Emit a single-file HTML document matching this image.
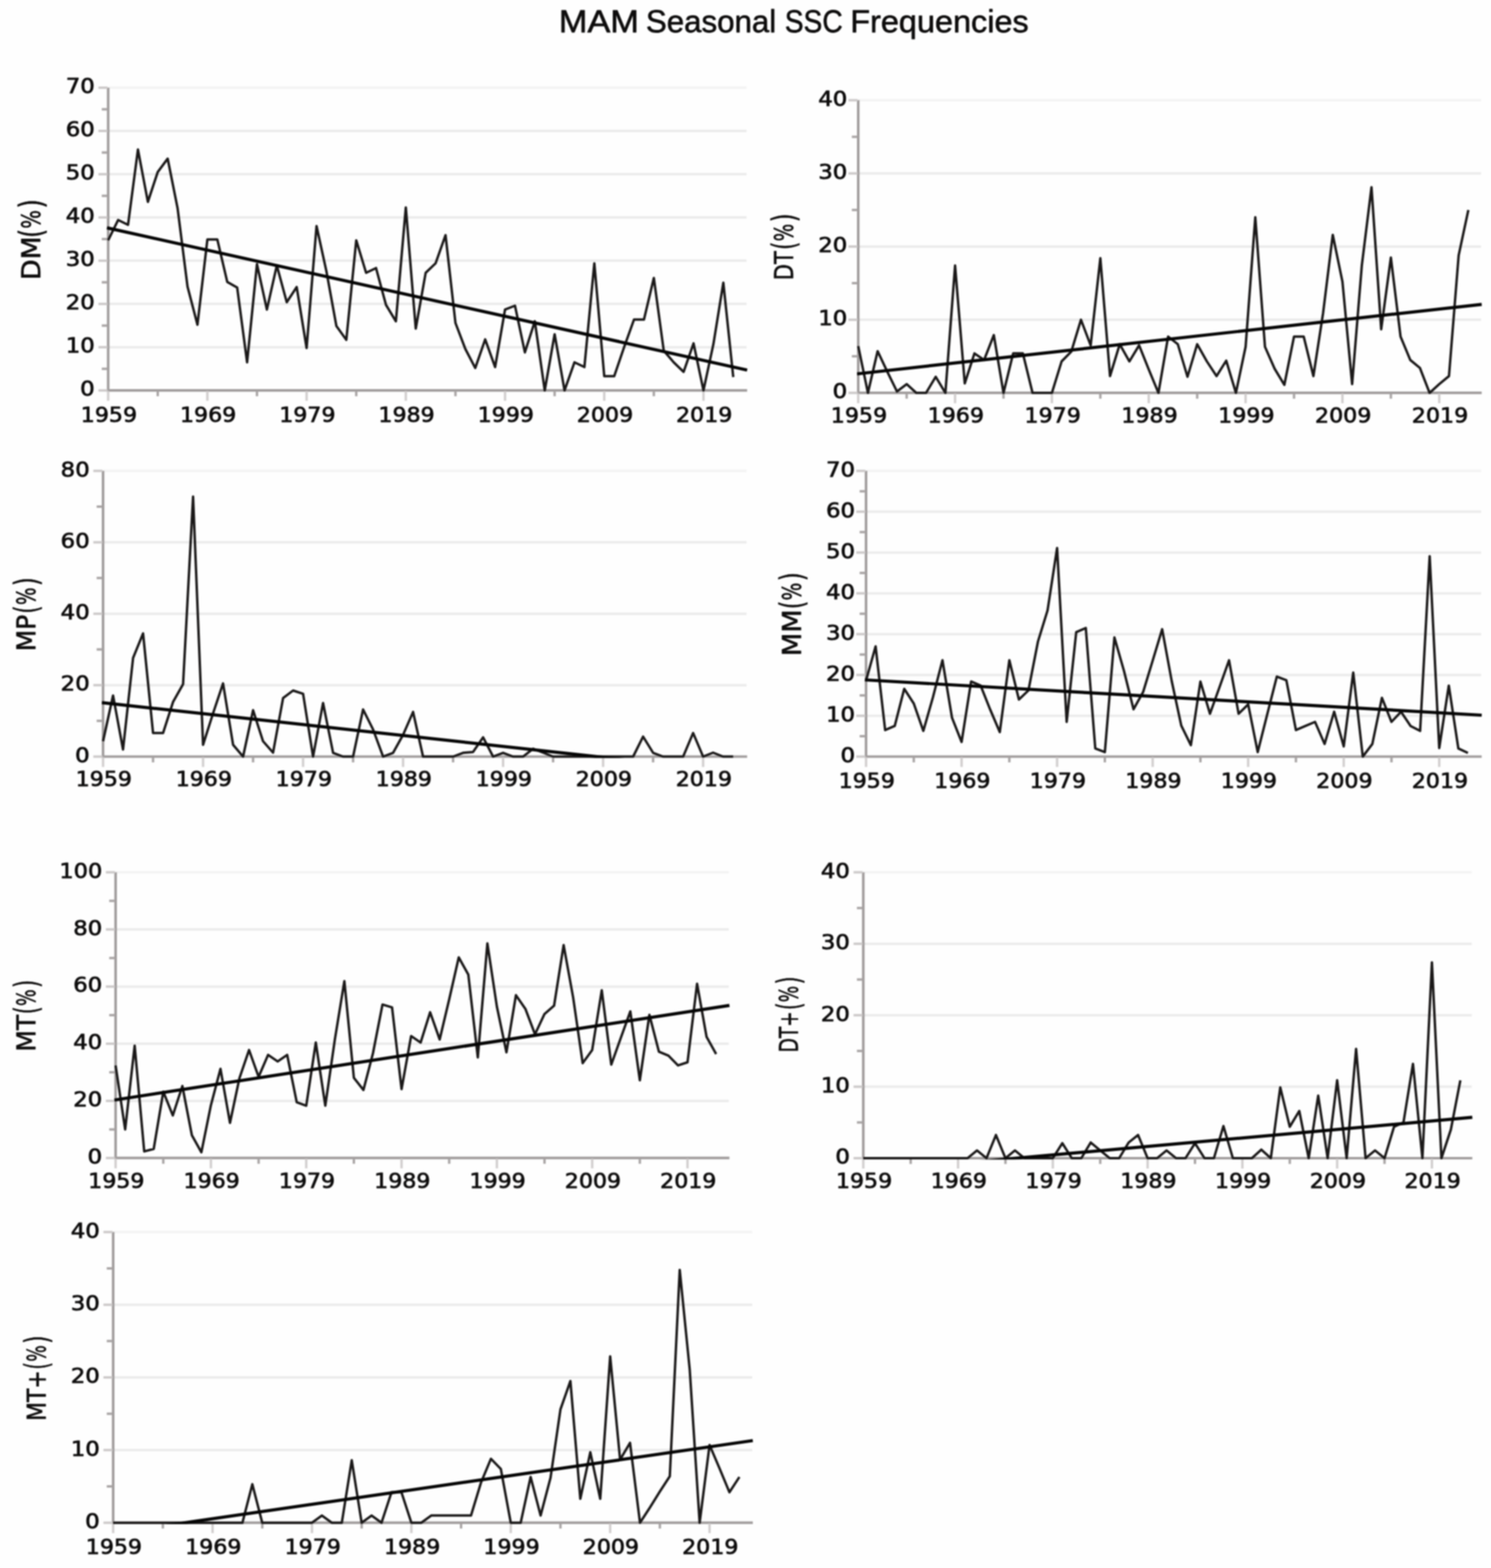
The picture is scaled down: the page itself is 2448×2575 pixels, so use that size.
<!DOCTYPE html>
<html lang="en">
<head>
<meta charset="utf-8">
<title>MAM Seasonal SSC Frequencies</title>
<style>
html,body{margin:0;padding:0;background:#fefefe;}
body{width:2448px;height:2575px;overflow:hidden;}
svg{display:block;filter:blur(1.1px);}
text{stroke:#0d0c0c;stroke-linejoin:round;}.t{stroke-width:0.9px}.k{stroke-width:1.1px}.l{stroke-width:0.9px}
</style>
</head>
<body>
<svg width="2448" height="2575" viewBox="0 0 2448 2575">
<rect width="2448" height="2575" fill="#fefefe"/>
<text class="t" y="52.6" font-family='"Liberation Sans", sans-serif' font-size="51.5" fill="#0d0c0c" xml:space="preserve"><tspan x="917.5" textLength="131.5" lengthAdjust="spacingAndGlyphs">MAM</tspan> <tspan x="1060.5" textLength="214" lengthAdjust="spacingAndGlyphs">Seasonal</tspan> <tspan x="1288.5" textLength="95" lengthAdjust="spacingAndGlyphs">SSC</tspan> <tspan x="1396" textLength="293" lengthAdjust="spacingAndGlyphs">Frequencies</tspan></text>
<g id="c0">
<line x1="177.6" y1="570.2" x2="1225.7" y2="570.2" stroke="#ebebeb" stroke-width="4"/>
<line x1="177.6" y1="499.1" x2="1225.7" y2="499.1" stroke="#ebebeb" stroke-width="4"/>
<line x1="177.6" y1="428.1" x2="1225.7" y2="428.1" stroke="#ebebeb" stroke-width="4"/>
<line x1="177.6" y1="357.1" x2="1225.7" y2="357.1" stroke="#ebebeb" stroke-width="4"/>
<line x1="177.6" y1="286.1" x2="1225.7" y2="286.1" stroke="#ebebeb" stroke-width="4"/>
<line x1="177.6" y1="215" x2="1225.7" y2="215" stroke="#ebebeb" stroke-width="4"/>
<line x1="177.6" y1="144" x2="1225.7" y2="144" stroke="#f3f3f3" stroke-width="4"/>
<clipPath id="cp0"><rect x="175.1" y="140" width="1052.6" height="503.4"/></clipPath>
<line x1="177.6" y1="144" x2="177.6" y2="643.3" stroke="#a09c9c" stroke-width="4.2"/>
<line x1="175.5" y1="641.2" x2="1226.7" y2="641.2" stroke="#a09c9c" stroke-width="4.2"/>
<line x1="161.6" y1="641.2" x2="176.6" y2="641.2" stroke="#cdcaca" stroke-width="4"/>
<text class="k" x="155.6" y="650.4" text-anchor="end" font-family='"DejaVu Sans", "Liberation Sans", sans-serif' font-size="34.4" fill="#0d0c0c" textLength="24" lengthAdjust="spacingAndGlyphs">0</text>
<line x1="167.1" y1="605.7" x2="176.6" y2="605.7" stroke="#aaa6a6" stroke-width="4"/>
<line x1="161.6" y1="570.2" x2="176.6" y2="570.2" stroke="#cdcaca" stroke-width="4"/>
<text class="k" x="155.6" y="579.4" text-anchor="end" font-family='"DejaVu Sans", "Liberation Sans", sans-serif' font-size="34.4" fill="#0d0c0c" textLength="47.6" lengthAdjust="spacingAndGlyphs">10</text>
<line x1="167.1" y1="534.7" x2="176.6" y2="534.7" stroke="#aaa6a6" stroke-width="4"/>
<line x1="161.6" y1="499.1" x2="176.6" y2="499.1" stroke="#cdcaca" stroke-width="4"/>
<text class="k" x="155.6" y="508.3" text-anchor="end" font-family='"DejaVu Sans", "Liberation Sans", sans-serif' font-size="34.4" fill="#0d0c0c" textLength="47.6" lengthAdjust="spacingAndGlyphs">20</text>
<line x1="167.1" y1="463.6" x2="176.6" y2="463.6" stroke="#aaa6a6" stroke-width="4"/>
<line x1="161.6" y1="428.1" x2="176.6" y2="428.1" stroke="#cdcaca" stroke-width="4"/>
<text class="k" x="155.6" y="437.3" text-anchor="end" font-family='"DejaVu Sans", "Liberation Sans", sans-serif' font-size="34.4" fill="#0d0c0c" textLength="47.6" lengthAdjust="spacingAndGlyphs">30</text>
<line x1="167.1" y1="392.6" x2="176.6" y2="392.6" stroke="#aaa6a6" stroke-width="4"/>
<line x1="161.6" y1="357.1" x2="176.6" y2="357.1" stroke="#cdcaca" stroke-width="4"/>
<text class="k" x="155.6" y="366.3" text-anchor="end" font-family='"DejaVu Sans", "Liberation Sans", sans-serif' font-size="34.4" fill="#0d0c0c" textLength="47.6" lengthAdjust="spacingAndGlyphs">40</text>
<line x1="167.1" y1="321.6" x2="176.6" y2="321.6" stroke="#aaa6a6" stroke-width="4"/>
<line x1="161.6" y1="286.1" x2="176.6" y2="286.1" stroke="#cdcaca" stroke-width="4"/>
<text class="k" x="155.6" y="295.3" text-anchor="end" font-family='"DejaVu Sans", "Liberation Sans", sans-serif' font-size="34.4" fill="#0d0c0c" textLength="47.6" lengthAdjust="spacingAndGlyphs">50</text>
<line x1="167.1" y1="250.5" x2="176.6" y2="250.5" stroke="#aaa6a6" stroke-width="4"/>
<line x1="161.6" y1="215" x2="176.6" y2="215" stroke="#cdcaca" stroke-width="4"/>
<text class="k" x="155.6" y="224.2" text-anchor="end" font-family='"DejaVu Sans", "Liberation Sans", sans-serif' font-size="34.4" fill="#0d0c0c" textLength="47.6" lengthAdjust="spacingAndGlyphs">60</text>
<line x1="167.1" y1="179.5" x2="176.6" y2="179.5" stroke="#aaa6a6" stroke-width="4"/>
<line x1="161.6" y1="144" x2="176.6" y2="144" stroke="#cdcaca" stroke-width="4"/>
<text class="k" x="155.6" y="153.2" text-anchor="end" font-family='"DejaVu Sans", "Liberation Sans", sans-serif' font-size="34.4" fill="#0d0c0c" textLength="47.6" lengthAdjust="spacingAndGlyphs">70</text>
<line x1="177.6" y1="642.2" x2="177.6" y2="658.2" stroke="#d2cfcf" stroke-width="4"/>
<text class="k" x="178.8" y="692.6" text-anchor="middle" font-family='"DejaVu Sans", "Liberation Sans", sans-serif' font-size="34.4" fill="#0d0c0c" textLength="92.4" lengthAdjust="spacingAndGlyphs">1959</text>
<line x1="259" y1="642.2" x2="259" y2="650.7" stroke="#aaa6a6" stroke-width="4"/>
<line x1="340.5" y1="642.2" x2="340.5" y2="658.2" stroke="#d2cfcf" stroke-width="4"/>
<text class="k" x="341.7" y="692.6" text-anchor="middle" font-family='"DejaVu Sans", "Liberation Sans", sans-serif' font-size="34.4" fill="#0d0c0c" textLength="92.4" lengthAdjust="spacingAndGlyphs">1969</text>
<line x1="421.9" y1="642.2" x2="421.9" y2="650.7" stroke="#aaa6a6" stroke-width="4"/>
<line x1="503.4" y1="642.2" x2="503.4" y2="658.2" stroke="#d2cfcf" stroke-width="4"/>
<text class="k" x="504.6" y="692.6" text-anchor="middle" font-family='"DejaVu Sans", "Liberation Sans", sans-serif' font-size="34.4" fill="#0d0c0c" textLength="92.4" lengthAdjust="spacingAndGlyphs">1979</text>
<line x1="584.9" y1="642.2" x2="584.9" y2="650.7" stroke="#aaa6a6" stroke-width="4"/>
<line x1="666.3" y1="642.2" x2="666.3" y2="658.2" stroke="#d2cfcf" stroke-width="4"/>
<text class="k" x="667.5" y="692.6" text-anchor="middle" font-family='"DejaVu Sans", "Liberation Sans", sans-serif' font-size="34.4" fill="#0d0c0c" textLength="92.4" lengthAdjust="spacingAndGlyphs">1989</text>
<line x1="747.8" y1="642.2" x2="747.8" y2="650.7" stroke="#aaa6a6" stroke-width="4"/>
<line x1="829.2" y1="642.2" x2="829.2" y2="658.2" stroke="#d2cfcf" stroke-width="4"/>
<text class="k" x="830.4" y="692.6" text-anchor="middle" font-family='"DejaVu Sans", "Liberation Sans", sans-serif' font-size="34.4" fill="#0d0c0c" textLength="92.4" lengthAdjust="spacingAndGlyphs">1999</text>
<line x1="910.6" y1="642.2" x2="910.6" y2="650.7" stroke="#aaa6a6" stroke-width="4"/>
<line x1="992.1" y1="642.2" x2="992.1" y2="658.2" stroke="#d2cfcf" stroke-width="4"/>
<text class="k" x="993.3" y="692.6" text-anchor="middle" font-family='"DejaVu Sans", "Liberation Sans", sans-serif' font-size="34.4" fill="#0d0c0c" textLength="92.4" lengthAdjust="spacingAndGlyphs">2009</text>
<line x1="1073.5" y1="642.2" x2="1073.5" y2="650.7" stroke="#aaa6a6" stroke-width="4"/>
<line x1="1155" y1="642.2" x2="1155" y2="658.2" stroke="#d2cfcf" stroke-width="4"/>
<text class="k" x="1156.2" y="692.6" text-anchor="middle" font-family='"DejaVu Sans", "Liberation Sans", sans-serif' font-size="34.4" fill="#0d0c0c" textLength="92.4" lengthAdjust="spacingAndGlyphs">2019</text>
<text class="l" transform="translate(66 393) rotate(-90)" font-family='"DejaVu Sans", "Liberation Sans", sans-serif' font-size="43" fill="#0d0c0c"><tspan x="-66.7" y="0" font-size="43" textLength="71.6" lengthAdjust="spacingAndGlyphs">DM</tspan><tspan x="2.7" y="4" font-size="53" textLength="14" lengthAdjust="spacingAndGlyphs">(</tspan><tspan x="17.4" y="0" font-size="43" textLength="30.5" lengthAdjust="spacingAndGlyphs">%</tspan><tspan x="50.7" y="4" font-size="53" textLength="15.1" lengthAdjust="spacingAndGlyphs">)</tspan></text>
<polyline points="177.6,394.7 193.9,361.3 210.2,369.2 226.5,245.6 242.8,331.5 259,282.5 275.3,260.5 291.6,342.2 307.9,470.7 324.2,533.2 340.5,393.3 356.8,393.3 373.1,462.9 389.4,472.2 405.7,595 421.9,433.8 438.2,508.4 454.5,435.9 470.8,496.3 487.1,471.4 503.4,571.6 519.7,371.3 536,445.9 552.3,535.4 568.6,558.1 584.9,394.7 601.1,448 617.4,440.2 633.7,500.6 650,527.6 666.3,340.7 682.6,539.6 698.9,448 715.2,432.4 731.5,386.2 747.8,530.4 764,573 780.3,604.3 796.6,557.4 812.9,602.8 829.2,508.4 845.5,502 861.8,578.7 878.1,527.6 894.4,641.2 910.6,548.9 926.9,641.2 943.2,595 959.5,602.8 975.8,432.4 992.1,617.8 1008.4,617.8 1024.7,570.2 1041,524.7 1057.3,524.7 1073.5,456.5 1089.8,575.9 1106.1,595 1122.4,610.7 1138.7,563.8 1155,641.2 1171.3,565.2 1187.6,464.3 1203.9,619.2" fill="none" stroke="#1a1818" stroke-width="4" stroke-linejoin="round" clip-path="url(#cp0)"/>
<line x1="175.6" y1="374.1" x2="1226.7" y2="607.8" stroke="#050505" stroke-width="5.2" clip-path="url(#cp0)"/>
</g>
<g id="c1">
<line x1="1409.1" y1="525.1" x2="2431.7" y2="525.1" stroke="#ebebeb" stroke-width="4"/>
<line x1="1409.1" y1="404.9" x2="2431.7" y2="404.9" stroke="#ebebeb" stroke-width="4"/>
<line x1="1409.1" y1="284.8" x2="2431.7" y2="284.8" stroke="#ebebeb" stroke-width="4"/>
<line x1="1409.1" y1="164.6" x2="2431.7" y2="164.6" stroke="#f3f3f3" stroke-width="4"/>
<clipPath id="cp1"><rect x="1406.6" y="160.6" width="1027.1" height="486.8"/></clipPath>
<line x1="1409.1" y1="164.6" x2="1409.1" y2="647.3" stroke="#a09c9c" stroke-width="4.2"/>
<line x1="1407" y1="645.2" x2="2432.7" y2="645.2" stroke="#a09c9c" stroke-width="4.2"/>
<line x1="1393.1" y1="645.2" x2="1408.1" y2="645.2" stroke="#cdcaca" stroke-width="4"/>
<text class="k" x="1391.1" y="654.4" text-anchor="end" font-family='"DejaVu Sans", "Liberation Sans", sans-serif' font-size="34.4" fill="#0d0c0c" textLength="24" lengthAdjust="spacingAndGlyphs">0</text>
<line x1="1398.6" y1="585.1" x2="1408.1" y2="585.1" stroke="#aaa6a6" stroke-width="4"/>
<line x1="1393.1" y1="525.1" x2="1408.1" y2="525.1" stroke="#cdcaca" stroke-width="4"/>
<text class="k" x="1391.1" y="534.3" text-anchor="end" font-family='"DejaVu Sans", "Liberation Sans", sans-serif' font-size="34.4" fill="#0d0c0c" textLength="47.6" lengthAdjust="spacingAndGlyphs">10</text>
<line x1="1398.6" y1="465" x2="1408.1" y2="465" stroke="#aaa6a6" stroke-width="4"/>
<line x1="1393.1" y1="404.9" x2="1408.1" y2="404.9" stroke="#cdcaca" stroke-width="4"/>
<text class="k" x="1391.1" y="414.1" text-anchor="end" font-family='"DejaVu Sans", "Liberation Sans", sans-serif' font-size="34.4" fill="#0d0c0c" textLength="47.6" lengthAdjust="spacingAndGlyphs">20</text>
<line x1="1398.6" y1="344.8" x2="1408.1" y2="344.8" stroke="#aaa6a6" stroke-width="4"/>
<line x1="1393.1" y1="284.8" x2="1408.1" y2="284.8" stroke="#cdcaca" stroke-width="4"/>
<text class="k" x="1391.1" y="293.9" text-anchor="end" font-family='"DejaVu Sans", "Liberation Sans", sans-serif' font-size="34.4" fill="#0d0c0c" textLength="47.6" lengthAdjust="spacingAndGlyphs">30</text>
<line x1="1398.6" y1="224.7" x2="1408.1" y2="224.7" stroke="#aaa6a6" stroke-width="4"/>
<line x1="1393.1" y1="164.6" x2="1408.1" y2="164.6" stroke="#cdcaca" stroke-width="4"/>
<text class="k" x="1391.1" y="173.8" text-anchor="end" font-family='"DejaVu Sans", "Liberation Sans", sans-serif' font-size="34.4" fill="#0d0c0c" textLength="47.6" lengthAdjust="spacingAndGlyphs">40</text>
<line x1="1409.1" y1="646.2" x2="1409.1" y2="662.2" stroke="#d2cfcf" stroke-width="4"/>
<text class="k" x="1410.3" y="693.6" text-anchor="middle" font-family='"DejaVu Sans", "Liberation Sans", sans-serif' font-size="34.4" fill="#0d0c0c" textLength="92.4" lengthAdjust="spacingAndGlyphs">1959</text>
<line x1="1488.6" y1="646.2" x2="1488.6" y2="654.7" stroke="#aaa6a6" stroke-width="4"/>
<line x1="1568.1" y1="646.2" x2="1568.1" y2="662.2" stroke="#d2cfcf" stroke-width="4"/>
<text class="k" x="1569.3" y="693.6" text-anchor="middle" font-family='"DejaVu Sans", "Liberation Sans", sans-serif' font-size="34.4" fill="#0d0c0c" textLength="92.4" lengthAdjust="spacingAndGlyphs">1969</text>
<line x1="1647.6" y1="646.2" x2="1647.6" y2="654.7" stroke="#aaa6a6" stroke-width="4"/>
<line x1="1727.1" y1="646.2" x2="1727.1" y2="662.2" stroke="#d2cfcf" stroke-width="4"/>
<text class="k" x="1728.3" y="693.6" text-anchor="middle" font-family='"DejaVu Sans", "Liberation Sans", sans-serif' font-size="34.4" fill="#0d0c0c" textLength="92.4" lengthAdjust="spacingAndGlyphs">1979</text>
<line x1="1806.6" y1="646.2" x2="1806.6" y2="654.7" stroke="#aaa6a6" stroke-width="4"/>
<line x1="1886.1" y1="646.2" x2="1886.1" y2="662.2" stroke="#d2cfcf" stroke-width="4"/>
<text class="k" x="1887.3" y="693.6" text-anchor="middle" font-family='"DejaVu Sans", "Liberation Sans", sans-serif' font-size="34.4" fill="#0d0c0c" textLength="92.4" lengthAdjust="spacingAndGlyphs">1989</text>
<line x1="1965.6" y1="646.2" x2="1965.6" y2="654.7" stroke="#aaa6a6" stroke-width="4"/>
<line x1="2045.1" y1="646.2" x2="2045.1" y2="662.2" stroke="#d2cfcf" stroke-width="4"/>
<text class="k" x="2046.3" y="693.6" text-anchor="middle" font-family='"DejaVu Sans", "Liberation Sans", sans-serif' font-size="34.4" fill="#0d0c0c" textLength="92.4" lengthAdjust="spacingAndGlyphs">1999</text>
<line x1="2124.6" y1="646.2" x2="2124.6" y2="654.7" stroke="#aaa6a6" stroke-width="4"/>
<line x1="2204.1" y1="646.2" x2="2204.1" y2="662.2" stroke="#d2cfcf" stroke-width="4"/>
<text class="k" x="2205.3" y="693.6" text-anchor="middle" font-family='"DejaVu Sans", "Liberation Sans", sans-serif' font-size="34.4" fill="#0d0c0c" textLength="92.4" lengthAdjust="spacingAndGlyphs">2009</text>
<line x1="2283.6" y1="646.2" x2="2283.6" y2="654.7" stroke="#aaa6a6" stroke-width="4"/>
<line x1="2363.1" y1="646.2" x2="2363.1" y2="662.2" stroke="#d2cfcf" stroke-width="4"/>
<text class="k" x="2364.3" y="693.6" text-anchor="middle" font-family='"DejaVu Sans", "Liberation Sans", sans-serif' font-size="34.4" fill="#0d0c0c" textLength="92.4" lengthAdjust="spacingAndGlyphs">2019</text>
<text class="l" transform="translate(1301.8 405.3) rotate(-90)" font-family='"DejaVu Sans", "Liberation Sans", sans-serif' font-size="43" fill="#0d0c0c"><tspan x="-54.9" y="0" font-size="43" textLength="47.7" lengthAdjust="spacingAndGlyphs">DT</tspan><tspan x="-4.8" y="4" font-size="53" textLength="13" lengthAdjust="spacingAndGlyphs">(</tspan><tspan x="9.1" y="0" font-size="43" textLength="28.7" lengthAdjust="spacingAndGlyphs">%</tspan><tspan x="40.5" y="4" font-size="53" textLength="14.1" lengthAdjust="spacingAndGlyphs">)</tspan></text>
<polyline points="1409.1,568.3 1425,645.2 1440.9,576.7 1456.8,610.4 1472.7,642.8 1488.6,630.8 1504.5,645.2 1520.4,645.2 1536.3,618.8 1552.2,645.2 1568.1,436.1 1584,629.6 1599.9,580.3 1615.8,591.1 1631.7,550.3 1647.6,645.2 1663.5,580.3 1679.4,580.3 1695.3,645.2 1711.2,645.2 1727.1,645.2 1743,593.5 1758.9,577.3 1774.8,525.1 1790.7,567.1 1806.6,424.1 1822.5,617.6 1838.4,565.3 1854.3,593.5 1870.2,567.1 1886.1,606.8 1902,645.2 1917.9,552.7 1933.8,565.3 1949.7,618.8 1965.6,565.3 1981.5,593.5 1997.4,617.6 2013.3,592.3 2029.2,645.2 2045.1,569.5 2061,356.8 2076.9,569.5 2092.8,605.6 2108.7,632 2124.6,552.7 2140.5,552.7 2156.4,617.6 2172.3,514.2 2188.2,385.7 2204.1,462.6 2220,630.8 2235.9,436.1 2251.8,307.6 2267.7,540.7 2283.6,422.9 2299.5,552.7 2315.4,591.1 2331.3,604.3 2347.2,645.2 2363.1,630.8 2379,617.6 2394.9,419.3 2410.8,344.8" fill="none" stroke="#1a1818" stroke-width="4" stroke-linejoin="round" clip-path="url(#cp1)"/>
<line x1="1407.1" y1="614" x2="2432.7" y2="499.8" stroke="#050505" stroke-width="5.2" clip-path="url(#cp1)"/>
</g>
<g id="c2">
<line x1="169.2" y1="1125.2" x2="1225.7" y2="1125.2" stroke="#ebebeb" stroke-width="4"/>
<line x1="169.2" y1="1007.9" x2="1225.7" y2="1007.9" stroke="#ebebeb" stroke-width="4"/>
<line x1="169.2" y1="890.6" x2="1225.7" y2="890.6" stroke="#ebebeb" stroke-width="4"/>
<line x1="169.2" y1="773.3" x2="1225.7" y2="773.3" stroke="#f3f3f3" stroke-width="4"/>
<clipPath id="cp2"><rect x="166.7" y="769.3" width="1061" height="475.4"/></clipPath>
<line x1="169.2" y1="773.3" x2="169.2" y2="1244.6" stroke="#a09c9c" stroke-width="4.2"/>
<line x1="167.1" y1="1242.5" x2="1226.7" y2="1242.5" stroke="#a09c9c" stroke-width="4.2"/>
<line x1="153.2" y1="1242.5" x2="168.2" y2="1242.5" stroke="#cdcaca" stroke-width="4"/>
<text class="k" x="147.2" y="1251.7" text-anchor="end" font-family='"DejaVu Sans", "Liberation Sans", sans-serif' font-size="34.4" fill="#0d0c0c" textLength="24" lengthAdjust="spacingAndGlyphs">0</text>
<line x1="158.7" y1="1183.8" x2="168.2" y2="1183.8" stroke="#aaa6a6" stroke-width="4"/>
<line x1="153.2" y1="1125.2" x2="168.2" y2="1125.2" stroke="#cdcaca" stroke-width="4"/>
<text class="k" x="147.2" y="1134.4" text-anchor="end" font-family='"DejaVu Sans", "Liberation Sans", sans-serif' font-size="34.4" fill="#0d0c0c" textLength="47.6" lengthAdjust="spacingAndGlyphs">20</text>
<line x1="158.7" y1="1066.5" x2="168.2" y2="1066.5" stroke="#aaa6a6" stroke-width="4"/>
<line x1="153.2" y1="1007.9" x2="168.2" y2="1007.9" stroke="#cdcaca" stroke-width="4"/>
<text class="k" x="147.2" y="1017.1" text-anchor="end" font-family='"DejaVu Sans", "Liberation Sans", sans-serif' font-size="34.4" fill="#0d0c0c" textLength="47.6" lengthAdjust="spacingAndGlyphs">40</text>
<line x1="158.7" y1="949.2" x2="168.2" y2="949.2" stroke="#aaa6a6" stroke-width="4"/>
<line x1="153.2" y1="890.6" x2="168.2" y2="890.6" stroke="#cdcaca" stroke-width="4"/>
<text class="k" x="147.2" y="899.8" text-anchor="end" font-family='"DejaVu Sans", "Liberation Sans", sans-serif' font-size="34.4" fill="#0d0c0c" textLength="47.6" lengthAdjust="spacingAndGlyphs">60</text>
<line x1="158.7" y1="832" x2="168.2" y2="832" stroke="#aaa6a6" stroke-width="4"/>
<line x1="153.2" y1="773.3" x2="168.2" y2="773.3" stroke="#cdcaca" stroke-width="4"/>
<text class="k" x="147.2" y="782.5" text-anchor="end" font-family='"DejaVu Sans", "Liberation Sans", sans-serif' font-size="34.4" fill="#0d0c0c" textLength="47.6" lengthAdjust="spacingAndGlyphs">80</text>
<line x1="169.2" y1="1243.5" x2="169.2" y2="1259.5" stroke="#d2cfcf" stroke-width="4"/>
<text class="k" x="170.4" y="1290.9" text-anchor="middle" font-family='"DejaVu Sans", "Liberation Sans", sans-serif' font-size="34.4" fill="#0d0c0c" textLength="92.4" lengthAdjust="spacingAndGlyphs">1959</text>
<line x1="251.3" y1="1243.5" x2="251.3" y2="1252" stroke="#aaa6a6" stroke-width="4"/>
<line x1="333.4" y1="1243.5" x2="333.4" y2="1259.5" stroke="#d2cfcf" stroke-width="4"/>
<text class="k" x="334.6" y="1290.9" text-anchor="middle" font-family='"DejaVu Sans", "Liberation Sans", sans-serif' font-size="34.4" fill="#0d0c0c" textLength="92.4" lengthAdjust="spacingAndGlyphs">1969</text>
<line x1="415.5" y1="1243.5" x2="415.5" y2="1252" stroke="#aaa6a6" stroke-width="4"/>
<line x1="497.6" y1="1243.5" x2="497.6" y2="1259.5" stroke="#d2cfcf" stroke-width="4"/>
<text class="k" x="498.8" y="1290.9" text-anchor="middle" font-family='"DejaVu Sans", "Liberation Sans", sans-serif' font-size="34.4" fill="#0d0c0c" textLength="92.4" lengthAdjust="spacingAndGlyphs">1979</text>
<line x1="579.7" y1="1243.5" x2="579.7" y2="1252" stroke="#aaa6a6" stroke-width="4"/>
<line x1="661.8" y1="1243.5" x2="661.8" y2="1259.5" stroke="#d2cfcf" stroke-width="4"/>
<text class="k" x="663" y="1290.9" text-anchor="middle" font-family='"DejaVu Sans", "Liberation Sans", sans-serif' font-size="34.4" fill="#0d0c0c" textLength="92.4" lengthAdjust="spacingAndGlyphs">1989</text>
<line x1="743.9" y1="1243.5" x2="743.9" y2="1252" stroke="#aaa6a6" stroke-width="4"/>
<line x1="826" y1="1243.5" x2="826" y2="1259.5" stroke="#d2cfcf" stroke-width="4"/>
<text class="k" x="827.2" y="1290.9" text-anchor="middle" font-family='"DejaVu Sans", "Liberation Sans", sans-serif' font-size="34.4" fill="#0d0c0c" textLength="92.4" lengthAdjust="spacingAndGlyphs">1999</text>
<line x1="908.1" y1="1243.5" x2="908.1" y2="1252" stroke="#aaa6a6" stroke-width="4"/>
<line x1="990.2" y1="1243.5" x2="990.2" y2="1259.5" stroke="#d2cfcf" stroke-width="4"/>
<text class="k" x="991.4" y="1290.9" text-anchor="middle" font-family='"DejaVu Sans", "Liberation Sans", sans-serif' font-size="34.4" fill="#0d0c0c" textLength="92.4" lengthAdjust="spacingAndGlyphs">2009</text>
<line x1="1072.3" y1="1243.5" x2="1072.3" y2="1252" stroke="#aaa6a6" stroke-width="4"/>
<line x1="1154.4" y1="1243.5" x2="1154.4" y2="1259.5" stroke="#d2cfcf" stroke-width="4"/>
<text class="k" x="1155.6" y="1290.9" text-anchor="middle" font-family='"DejaVu Sans", "Liberation Sans", sans-serif' font-size="34.4" fill="#0d0c0c" textLength="92.4" lengthAdjust="spacingAndGlyphs">2019</text>
<text class="l" transform="translate(58.1 1008.3) rotate(-90)" font-family='"DejaVu Sans", "Liberation Sans", sans-serif' font-size="43" fill="#0d0c0c"><tspan x="-61.1" y="0" font-size="43" textLength="59.9" lengthAdjust="spacingAndGlyphs">MP</tspan><tspan x="0.8" y="4" font-size="53" textLength="13" lengthAdjust="spacingAndGlyphs">(</tspan><tspan x="14.7" y="0" font-size="43" textLength="28.7" lengthAdjust="spacingAndGlyphs">%</tspan><tspan x="46.1" y="4" font-size="53" textLength="14.1" lengthAdjust="spacingAndGlyphs">)</tspan></text>
<polyline points="169.2,1217.3 185.6,1142.2 202,1230.8 218.5,1080.6 234.9,1040.2 251.3,1203.8 267.7,1203.8 284.1,1152.8 300.6,1123.4 317,815.5 333.4,1223.1 349.8,1171.5 366.2,1122.3 382.7,1223.1 399.1,1242.5 415.5,1166.3 431.9,1217.3 448.3,1236 464.8,1146.3 481.2,1134 497.6,1139.3 514,1242.5 530.4,1154.5 546.9,1236.3 563.3,1242.5 579.7,1242.5 596.1,1165.1 612.5,1197.9 629,1242.5 645.4,1236.3 661.8,1206.7 678.2,1169.2 694.6,1242.5 711.1,1242.5 727.5,1242.5 743.9,1242.5 760.3,1236.3 776.7,1234.9 793.2,1210.8 809.6,1242.5 826,1236.3 842.4,1242.5 858.8,1242.5 875.3,1229.6 891.7,1236 908.1,1242.5 924.5,1242.5 940.9,1242.5 957.4,1242.5 973.8,1242.5 990.2,1242.5 1006.6,1242.5 1023,1242.5 1039.5,1242.5 1055.9,1209.7 1072.3,1236.3 1088.7,1242.5 1105.1,1242.5 1121.6,1242.5 1138,1203.8 1154.4,1242.5 1170.8,1236 1187.2,1242.5 1203.7,1242.5" fill="none" stroke="#1a1818" stroke-width="4" stroke-linejoin="round" clip-path="url(#cp2)"/>
<line x1="167.2" y1="1153.9" x2="1226.7" y2="1269.5" stroke="#050505" stroke-width="5.2" clip-path="url(#cp2)"/>
</g>
<g id="c3">
<line x1="1421.9" y1="1175.5" x2="2431.7" y2="1175.5" stroke="#ebebeb" stroke-width="4"/>
<line x1="1421.9" y1="1108.4" x2="2431.7" y2="1108.4" stroke="#ebebeb" stroke-width="4"/>
<line x1="1421.9" y1="1041.4" x2="2431.7" y2="1041.4" stroke="#ebebeb" stroke-width="4"/>
<line x1="1421.9" y1="974.4" x2="2431.7" y2="974.4" stroke="#ebebeb" stroke-width="4"/>
<line x1="1421.9" y1="907.4" x2="2431.7" y2="907.4" stroke="#ebebeb" stroke-width="4"/>
<line x1="1421.9" y1="840.3" x2="2431.7" y2="840.3" stroke="#ebebeb" stroke-width="4"/>
<line x1="1421.9" y1="773.3" x2="2431.7" y2="773.3" stroke="#f3f3f3" stroke-width="4"/>
<clipPath id="cp3"><rect x="1419.4" y="769.3" width="1014.3" height="475.4"/></clipPath>
<line x1="1421.9" y1="773.3" x2="1421.9" y2="1244.6" stroke="#a09c9c" stroke-width="4.2"/>
<line x1="1419.8" y1="1242.5" x2="2432.7" y2="1242.5" stroke="#a09c9c" stroke-width="4.2"/>
<line x1="1405.9" y1="1242.5" x2="1420.9" y2="1242.5" stroke="#cdcaca" stroke-width="4"/>
<text class="k" x="1403.9" y="1251.7" text-anchor="end" font-family='"DejaVu Sans", "Liberation Sans", sans-serif' font-size="34.4" fill="#0d0c0c" textLength="24" lengthAdjust="spacingAndGlyphs">0</text>
<line x1="1411.4" y1="1209" x2="1420.9" y2="1209" stroke="#aaa6a6" stroke-width="4"/>
<line x1="1405.9" y1="1175.5" x2="1420.9" y2="1175.5" stroke="#cdcaca" stroke-width="4"/>
<text class="k" x="1403.9" y="1184.7" text-anchor="end" font-family='"DejaVu Sans", "Liberation Sans", sans-serif' font-size="34.4" fill="#0d0c0c" textLength="47.6" lengthAdjust="spacingAndGlyphs">10</text>
<line x1="1411.4" y1="1142" x2="1420.9" y2="1142" stroke="#aaa6a6" stroke-width="4"/>
<line x1="1405.9" y1="1108.4" x2="1420.9" y2="1108.4" stroke="#cdcaca" stroke-width="4"/>
<text class="k" x="1403.9" y="1117.6" text-anchor="end" font-family='"DejaVu Sans", "Liberation Sans", sans-serif' font-size="34.4" fill="#0d0c0c" textLength="47.6" lengthAdjust="spacingAndGlyphs">20</text>
<line x1="1411.4" y1="1074.9" x2="1420.9" y2="1074.9" stroke="#aaa6a6" stroke-width="4"/>
<line x1="1405.9" y1="1041.4" x2="1420.9" y2="1041.4" stroke="#cdcaca" stroke-width="4"/>
<text class="k" x="1403.9" y="1050.6" text-anchor="end" font-family='"DejaVu Sans", "Liberation Sans", sans-serif' font-size="34.4" fill="#0d0c0c" textLength="47.6" lengthAdjust="spacingAndGlyphs">30</text>
<line x1="1411.4" y1="1007.9" x2="1420.9" y2="1007.9" stroke="#aaa6a6" stroke-width="4"/>
<line x1="1405.9" y1="974.4" x2="1420.9" y2="974.4" stroke="#cdcaca" stroke-width="4"/>
<text class="k" x="1403.9" y="983.6" text-anchor="end" font-family='"DejaVu Sans", "Liberation Sans", sans-serif' font-size="34.4" fill="#0d0c0c" textLength="47.6" lengthAdjust="spacingAndGlyphs">40</text>
<line x1="1411.4" y1="940.9" x2="1420.9" y2="940.9" stroke="#aaa6a6" stroke-width="4"/>
<line x1="1405.9" y1="907.4" x2="1420.9" y2="907.4" stroke="#cdcaca" stroke-width="4"/>
<text class="k" x="1403.9" y="916.6" text-anchor="end" font-family='"DejaVu Sans", "Liberation Sans", sans-serif' font-size="34.4" fill="#0d0c0c" textLength="47.6" lengthAdjust="spacingAndGlyphs">50</text>
<line x1="1411.4" y1="873.8" x2="1420.9" y2="873.8" stroke="#aaa6a6" stroke-width="4"/>
<line x1="1405.9" y1="840.3" x2="1420.9" y2="840.3" stroke="#cdcaca" stroke-width="4"/>
<text class="k" x="1403.9" y="849.5" text-anchor="end" font-family='"DejaVu Sans", "Liberation Sans", sans-serif' font-size="34.4" fill="#0d0c0c" textLength="47.6" lengthAdjust="spacingAndGlyphs">60</text>
<line x1="1411.4" y1="806.8" x2="1420.9" y2="806.8" stroke="#aaa6a6" stroke-width="4"/>
<line x1="1405.9" y1="773.3" x2="1420.9" y2="773.3" stroke="#cdcaca" stroke-width="4"/>
<text class="k" x="1403.9" y="782.5" text-anchor="end" font-family='"DejaVu Sans", "Liberation Sans", sans-serif' font-size="34.4" fill="#0d0c0c" textLength="47.6" lengthAdjust="spacingAndGlyphs">70</text>
<line x1="1421.9" y1="1243.5" x2="1421.9" y2="1259.5" stroke="#d2cfcf" stroke-width="4"/>
<text class="k" x="1423.1" y="1293.9" text-anchor="middle" font-family='"DejaVu Sans", "Liberation Sans", sans-serif' font-size="34.4" fill="#0d0c0c" textLength="92.4" lengthAdjust="spacingAndGlyphs">1959</text>
<line x1="1500.3" y1="1243.5" x2="1500.3" y2="1252" stroke="#aaa6a6" stroke-width="4"/>
<line x1="1578.8" y1="1243.5" x2="1578.8" y2="1259.5" stroke="#d2cfcf" stroke-width="4"/>
<text class="k" x="1580" y="1293.9" text-anchor="middle" font-family='"DejaVu Sans", "Liberation Sans", sans-serif' font-size="34.4" fill="#0d0c0c" textLength="92.4" lengthAdjust="spacingAndGlyphs">1969</text>
<line x1="1657.2" y1="1243.5" x2="1657.2" y2="1252" stroke="#aaa6a6" stroke-width="4"/>
<line x1="1735.6" y1="1243.5" x2="1735.6" y2="1259.5" stroke="#d2cfcf" stroke-width="4"/>
<text class="k" x="1736.8" y="1293.9" text-anchor="middle" font-family='"DejaVu Sans", "Liberation Sans", sans-serif' font-size="34.4" fill="#0d0c0c" textLength="92.4" lengthAdjust="spacingAndGlyphs">1979</text>
<line x1="1814" y1="1243.5" x2="1814" y2="1252" stroke="#aaa6a6" stroke-width="4"/>
<line x1="1892.5" y1="1243.5" x2="1892.5" y2="1259.5" stroke="#d2cfcf" stroke-width="4"/>
<text class="k" x="1893.7" y="1293.9" text-anchor="middle" font-family='"DejaVu Sans", "Liberation Sans", sans-serif' font-size="34.4" fill="#0d0c0c" textLength="92.4" lengthAdjust="spacingAndGlyphs">1989</text>
<line x1="1970.9" y1="1243.5" x2="1970.9" y2="1252" stroke="#aaa6a6" stroke-width="4"/>
<line x1="2049.3" y1="1243.5" x2="2049.3" y2="1259.5" stroke="#d2cfcf" stroke-width="4"/>
<text class="k" x="2050.5" y="1293.9" text-anchor="middle" font-family='"DejaVu Sans", "Liberation Sans", sans-serif' font-size="34.4" fill="#0d0c0c" textLength="92.4" lengthAdjust="spacingAndGlyphs">1999</text>
<line x1="2127.7" y1="1243.5" x2="2127.7" y2="1252" stroke="#aaa6a6" stroke-width="4"/>
<line x1="2206.2" y1="1243.5" x2="2206.2" y2="1259.5" stroke="#d2cfcf" stroke-width="4"/>
<text class="k" x="2207.3" y="1293.9" text-anchor="middle" font-family='"DejaVu Sans", "Liberation Sans", sans-serif' font-size="34.4" fill="#0d0c0c" textLength="92.4" lengthAdjust="spacingAndGlyphs">2009</text>
<line x1="2284.6" y1="1243.5" x2="2284.6" y2="1252" stroke="#aaa6a6" stroke-width="4"/>
<line x1="2363" y1="1243.5" x2="2363" y2="1259.5" stroke="#d2cfcf" stroke-width="4"/>
<text class="k" x="2364.2" y="1293.9" text-anchor="middle" font-family='"DejaVu Sans", "Liberation Sans", sans-serif' font-size="34.4" fill="#0d0c0c" textLength="92.4" lengthAdjust="spacingAndGlyphs">2019</text>
<text class="l" transform="translate(1314.8 1008.3) rotate(-90)" font-family='"DejaVu Sans", "Liberation Sans", sans-serif' font-size="43" fill="#0d0c0c"><tspan x="-69.5" y="0" font-size="43" textLength="77.2" lengthAdjust="spacingAndGlyphs">MM</tspan><tspan x="8.2" y="4" font-size="53" textLength="13.2" lengthAdjust="spacingAndGlyphs">(</tspan><tspan x="22.2" y="0" font-size="43" textLength="29" lengthAdjust="spacingAndGlyphs">%</tspan><tspan x="54" y="4" font-size="53" textLength="14.3" lengthAdjust="spacingAndGlyphs">)</tspan></text>
<polyline points="1421.9,1117.8 1437.6,1061.5 1453.3,1198.9 1469,1192.2 1484.6,1131.2 1500.3,1155.4 1516,1200.3 1531.7,1145.3 1547.4,1084.3 1563.1,1178.8 1578.8,1218.4 1594.4,1119.2 1610.1,1125.9 1625.8,1165.4 1641.5,1202.3 1657.2,1084.3 1672.9,1148.7 1688.5,1133.9 1704.2,1053.5 1719.9,1002.5 1735.6,900 1751.3,1185.5 1767,1038.1 1782.7,1031.4 1798.3,1229.1 1814,1235.1 1829.7,1046.8 1845.4,1101.7 1861.1,1164.7 1876.8,1136.6 1892.5,1085 1908.1,1033.4 1923.8,1118.5 1939.5,1191.6 1955.2,1223.7 1970.9,1119.2 1986.6,1172.1 2002.2,1128.6 2017.9,1084.3 2033.6,1172.1 2049.3,1156.7 2065,1235.1 2080.7,1172.8 2096.4,1111.1 2112,1117.2 2127.7,1198.9 2143.4,1192.2 2159.1,1185.5 2174.8,1221.7 2190.5,1168.8 2206.2,1225.7 2221.8,1104.4 2237.5,1242.5 2253.2,1221.7 2268.9,1146 2284.6,1185.5 2300.3,1168.8 2315.9,1192.2 2331.6,1200.3 2347.3,913.4 2363,1228.4 2378.7,1125.9 2394.4,1229.1 2410.1,1236.5" fill="none" stroke="#1a1818" stroke-width="4" stroke-linejoin="round" clip-path="url(#cp3)"/>
<line x1="1419.9" y1="1116.5" x2="2432.7" y2="1174.5" stroke="#050505" stroke-width="5.2" clip-path="url(#cp3)"/>
</g>
<g id="c4">
<line x1="189.8" y1="1807.9" x2="1196.6" y2="1807.9" stroke="#ebebeb" stroke-width="4"/>
<line x1="189.8" y1="1714" x2="1196.6" y2="1714" stroke="#ebebeb" stroke-width="4"/>
<line x1="189.8" y1="1620.2" x2="1196.6" y2="1620.2" stroke="#ebebeb" stroke-width="4"/>
<line x1="189.8" y1="1526.3" x2="1196.6" y2="1526.3" stroke="#ebebeb" stroke-width="4"/>
<line x1="189.8" y1="1432.5" x2="1196.6" y2="1432.5" stroke="#f3f3f3" stroke-width="4"/>
<clipPath id="cp4"><rect x="187.3" y="1428.5" width="1011.3" height="475.4"/></clipPath>
<line x1="189.8" y1="1432.5" x2="189.8" y2="1903.8" stroke="#a09c9c" stroke-width="4.2"/>
<line x1="187.7" y1="1901.7" x2="1197.6" y2="1901.7" stroke="#a09c9c" stroke-width="4.2"/>
<line x1="173.8" y1="1901.7" x2="188.8" y2="1901.7" stroke="#cdcaca" stroke-width="4"/>
<text class="k" x="167.8" y="1910.9" text-anchor="end" font-family='"DejaVu Sans", "Liberation Sans", sans-serif' font-size="34.4" fill="#0d0c0c" textLength="24" lengthAdjust="spacingAndGlyphs">0</text>
<line x1="179.3" y1="1854.8" x2="188.8" y2="1854.8" stroke="#aaa6a6" stroke-width="4"/>
<line x1="173.8" y1="1807.9" x2="188.8" y2="1807.9" stroke="#cdcaca" stroke-width="4"/>
<text class="k" x="167.8" y="1817.1" text-anchor="end" font-family='"DejaVu Sans", "Liberation Sans", sans-serif' font-size="34.4" fill="#0d0c0c" textLength="47.6" lengthAdjust="spacingAndGlyphs">20</text>
<line x1="179.3" y1="1760.9" x2="188.8" y2="1760.9" stroke="#aaa6a6" stroke-width="4"/>
<line x1="173.8" y1="1714" x2="188.8" y2="1714" stroke="#cdcaca" stroke-width="4"/>
<text class="k" x="167.8" y="1723.2" text-anchor="end" font-family='"DejaVu Sans", "Liberation Sans", sans-serif' font-size="34.4" fill="#0d0c0c" textLength="47.6" lengthAdjust="spacingAndGlyphs">40</text>
<line x1="179.3" y1="1667.1" x2="188.8" y2="1667.1" stroke="#aaa6a6" stroke-width="4"/>
<line x1="173.8" y1="1620.2" x2="188.8" y2="1620.2" stroke="#cdcaca" stroke-width="4"/>
<text class="k" x="167.8" y="1629.4" text-anchor="end" font-family='"DejaVu Sans", "Liberation Sans", sans-serif' font-size="34.4" fill="#0d0c0c" textLength="47.6" lengthAdjust="spacingAndGlyphs">60</text>
<line x1="179.3" y1="1573.3" x2="188.8" y2="1573.3" stroke="#aaa6a6" stroke-width="4"/>
<line x1="173.8" y1="1526.3" x2="188.8" y2="1526.3" stroke="#cdcaca" stroke-width="4"/>
<text class="k" x="167.8" y="1535.5" text-anchor="end" font-family='"DejaVu Sans", "Liberation Sans", sans-serif' font-size="34.4" fill="#0d0c0c" textLength="47.6" lengthAdjust="spacingAndGlyphs">80</text>
<line x1="179.3" y1="1479.4" x2="188.8" y2="1479.4" stroke="#aaa6a6" stroke-width="4"/>
<line x1="173.8" y1="1432.5" x2="188.8" y2="1432.5" stroke="#cdcaca" stroke-width="4"/>
<text class="k" x="167.8" y="1441.7" text-anchor="end" font-family='"DejaVu Sans", "Liberation Sans", sans-serif' font-size="34.4" fill="#0d0c0c" textLength="70.2" lengthAdjust="spacingAndGlyphs">100</text>
<line x1="189.8" y1="1902.7" x2="189.8" y2="1918.7" stroke="#d2cfcf" stroke-width="4"/>
<text class="k" x="191" y="1951.1" text-anchor="middle" font-family='"DejaVu Sans", "Liberation Sans", sans-serif' font-size="34.4" fill="#0d0c0c" textLength="92.4" lengthAdjust="spacingAndGlyphs">1959</text>
<line x1="268.1" y1="1902.7" x2="268.1" y2="1911.2" stroke="#aaa6a6" stroke-width="4"/>
<line x1="346.3" y1="1902.7" x2="346.3" y2="1918.7" stroke="#d2cfcf" stroke-width="4"/>
<text class="k" x="347.5" y="1951.1" text-anchor="middle" font-family='"DejaVu Sans", "Liberation Sans", sans-serif' font-size="34.4" fill="#0d0c0c" textLength="92.4" lengthAdjust="spacingAndGlyphs">1969</text>
<line x1="424.6" y1="1902.7" x2="424.6" y2="1911.2" stroke="#aaa6a6" stroke-width="4"/>
<line x1="502.8" y1="1902.7" x2="502.8" y2="1918.7" stroke="#d2cfcf" stroke-width="4"/>
<text class="k" x="504" y="1951.1" text-anchor="middle" font-family='"DejaVu Sans", "Liberation Sans", sans-serif' font-size="34.4" fill="#0d0c0c" textLength="92.4" lengthAdjust="spacingAndGlyphs">1979</text>
<line x1="581" y1="1902.7" x2="581" y2="1911.2" stroke="#aaa6a6" stroke-width="4"/>
<line x1="659.3" y1="1902.7" x2="659.3" y2="1918.7" stroke="#d2cfcf" stroke-width="4"/>
<text class="k" x="660.5" y="1951.1" text-anchor="middle" font-family='"DejaVu Sans", "Liberation Sans", sans-serif' font-size="34.4" fill="#0d0c0c" textLength="92.4" lengthAdjust="spacingAndGlyphs">1989</text>
<line x1="737.5" y1="1902.7" x2="737.5" y2="1911.2" stroke="#aaa6a6" stroke-width="4"/>
<line x1="815.8" y1="1902.7" x2="815.8" y2="1918.7" stroke="#d2cfcf" stroke-width="4"/>
<text class="k" x="817" y="1951.1" text-anchor="middle" font-family='"DejaVu Sans", "Liberation Sans", sans-serif' font-size="34.4" fill="#0d0c0c" textLength="92.4" lengthAdjust="spacingAndGlyphs">1999</text>
<line x1="894" y1="1902.7" x2="894" y2="1911.2" stroke="#aaa6a6" stroke-width="4"/>
<line x1="972.3" y1="1902.7" x2="972.3" y2="1918.7" stroke="#d2cfcf" stroke-width="4"/>
<text class="k" x="973.5" y="1951.1" text-anchor="middle" font-family='"DejaVu Sans", "Liberation Sans", sans-serif' font-size="34.4" fill="#0d0c0c" textLength="92.4" lengthAdjust="spacingAndGlyphs">2009</text>
<line x1="1050.5" y1="1902.7" x2="1050.5" y2="1911.2" stroke="#aaa6a6" stroke-width="4"/>
<line x1="1128.8" y1="1902.7" x2="1128.8" y2="1918.7" stroke="#d2cfcf" stroke-width="4"/>
<text class="k" x="1130" y="1951.1" text-anchor="middle" font-family='"DejaVu Sans", "Liberation Sans", sans-serif' font-size="34.4" fill="#0d0c0c" textLength="92.4" lengthAdjust="spacingAndGlyphs">2019</text>
<text class="l" transform="translate(58 1667.5) rotate(-90)" font-family='"DejaVu Sans", "Liberation Sans", sans-serif' font-size="43" fill="#0d0c0c"><tspan x="-59.6" y="0" font-size="43" textLength="60.4" lengthAdjust="spacingAndGlyphs">MT</tspan><tspan x="2.2" y="4" font-size="53" textLength="12.2" lengthAdjust="spacingAndGlyphs">(</tspan><tspan x="15.4" y="0" font-size="43" textLength="27.2" lengthAdjust="spacingAndGlyphs">%</tspan><tspan x="45.3" y="4" font-size="53" textLength="13.2" lengthAdjust="spacingAndGlyphs">)</tspan></text>
<polyline points="189.8,1749.7 205.5,1854.8 221.1,1717.3 236.8,1890.9 252.4,1886.7 268.1,1792.8 283.7,1831.8 299.4,1783.5 315,1864.2 330.6,1892.3 346.3,1814.9 362,1755.3 377.6,1844 393.2,1770.3 408.9,1724.3 424.6,1768.4 440.2,1732.3 455.9,1743.1 471.5,1732.3 487.2,1810.2 502.8,1815.8 518.5,1712.1 534.1,1815.8 549.8,1707 565.4,1611.3 581,1769.9 596.7,1790 612.4,1729.5 628,1649.7 643.7,1654.4 659.3,1788.6 675,1701.4 690.6,1712.1 706.2,1662.4 721.9,1707 737.5,1641.3 753.2,1572.3 768.9,1600.5 784.5,1736.5 800.2,1549.3 815.8,1653 831.5,1728.1 847.1,1634.3 862.8,1657.2 878.4,1698.5 894,1665.2 909.7,1651.6 925.4,1552.1 941,1638 956.7,1745.9 972.3,1724.3 988,1626.3 1003.6,1748.3 1019.2,1704.6 1034.9,1661 1050.5,1774.1 1066.2,1666.6 1081.9,1727.2 1097.5,1733.7 1113.2,1749.7 1128.8,1744.5 1144.5,1615.5 1160.1,1702.8 1175.8,1730.9" fill="none" stroke="#1a1818" stroke-width="4" stroke-linejoin="round" clip-path="url(#cp4)"/>
<line x1="187.8" y1="1806.5" x2="1197.6" y2="1651.1" stroke="#050505" stroke-width="5.2" clip-path="url(#cp4)"/>
</g>
<g id="c5">
<line x1="1417.4" y1="1784.6" x2="2416.3" y2="1784.6" stroke="#ebebeb" stroke-width="4"/>
<line x1="1417.4" y1="1667.2" x2="2416.3" y2="1667.2" stroke="#ebebeb" stroke-width="4"/>
<line x1="1417.4" y1="1549.9" x2="2416.3" y2="1549.9" stroke="#ebebeb" stroke-width="4"/>
<line x1="1417.4" y1="1432.5" x2="2416.3" y2="1432.5" stroke="#f3f3f3" stroke-width="4"/>
<clipPath id="cp5"><rect x="1414.9" y="1428.5" width="1003.4" height="475.7"/></clipPath>
<line x1="1417.4" y1="1432.5" x2="1417.4" y2="1904.1" stroke="#a09c9c" stroke-width="4.2"/>
<line x1="1415.3" y1="1902" x2="2417.3" y2="1902" stroke="#a09c9c" stroke-width="4.2"/>
<line x1="1401.4" y1="1902" x2="1416.4" y2="1902" stroke="#cdcaca" stroke-width="4"/>
<text class="k" x="1395.4" y="1911.2" text-anchor="end" font-family='"DejaVu Sans", "Liberation Sans", sans-serif' font-size="34.4" fill="#0d0c0c" textLength="24" lengthAdjust="spacingAndGlyphs">0</text>
<line x1="1406.9" y1="1843.3" x2="1416.4" y2="1843.3" stroke="#aaa6a6" stroke-width="4"/>
<line x1="1401.4" y1="1784.6" x2="1416.4" y2="1784.6" stroke="#cdcaca" stroke-width="4"/>
<text class="k" x="1395.4" y="1793.8" text-anchor="end" font-family='"DejaVu Sans", "Liberation Sans", sans-serif' font-size="34.4" fill="#0d0c0c" textLength="47.6" lengthAdjust="spacingAndGlyphs">10</text>
<line x1="1406.9" y1="1725.9" x2="1416.4" y2="1725.9" stroke="#aaa6a6" stroke-width="4"/>
<line x1="1401.4" y1="1667.2" x2="1416.4" y2="1667.2" stroke="#cdcaca" stroke-width="4"/>
<text class="k" x="1395.4" y="1676.5" text-anchor="end" font-family='"DejaVu Sans", "Liberation Sans", sans-serif' font-size="34.4" fill="#0d0c0c" textLength="47.6" lengthAdjust="spacingAndGlyphs">20</text>
<line x1="1406.9" y1="1608.6" x2="1416.4" y2="1608.6" stroke="#aaa6a6" stroke-width="4"/>
<line x1="1401.4" y1="1549.9" x2="1416.4" y2="1549.9" stroke="#cdcaca" stroke-width="4"/>
<text class="k" x="1395.4" y="1559.1" text-anchor="end" font-family='"DejaVu Sans", "Liberation Sans", sans-serif' font-size="34.4" fill="#0d0c0c" textLength="47.6" lengthAdjust="spacingAndGlyphs">30</text>
<line x1="1406.9" y1="1491.2" x2="1416.4" y2="1491.2" stroke="#aaa6a6" stroke-width="4"/>
<line x1="1401.4" y1="1432.5" x2="1416.4" y2="1432.5" stroke="#cdcaca" stroke-width="4"/>
<text class="k" x="1395.4" y="1441.7" text-anchor="end" font-family='"DejaVu Sans", "Liberation Sans", sans-serif' font-size="34.4" fill="#0d0c0c" textLength="47.6" lengthAdjust="spacingAndGlyphs">40</text>
<line x1="1417.4" y1="1903" x2="1417.4" y2="1919" stroke="#d2cfcf" stroke-width="4"/>
<text class="k" x="1418.6" y="1951.4" text-anchor="middle" font-family='"DejaVu Sans", "Liberation Sans", sans-serif' font-size="34.4" fill="#0d0c0c" textLength="92.4" lengthAdjust="spacingAndGlyphs">1959</text>
<line x1="1495.2" y1="1903" x2="1495.2" y2="1911.5" stroke="#aaa6a6" stroke-width="4"/>
<line x1="1573" y1="1903" x2="1573" y2="1919" stroke="#d2cfcf" stroke-width="4"/>
<text class="k" x="1574.2" y="1951.4" text-anchor="middle" font-family='"DejaVu Sans", "Liberation Sans", sans-serif' font-size="34.4" fill="#0d0c0c" textLength="92.4" lengthAdjust="spacingAndGlyphs">1969</text>
<line x1="1650.8" y1="1903" x2="1650.8" y2="1911.5" stroke="#aaa6a6" stroke-width="4"/>
<line x1="1728.6" y1="1903" x2="1728.6" y2="1919" stroke="#d2cfcf" stroke-width="4"/>
<text class="k" x="1729.8" y="1951.4" text-anchor="middle" font-family='"DejaVu Sans", "Liberation Sans", sans-serif' font-size="34.4" fill="#0d0c0c" textLength="92.4" lengthAdjust="spacingAndGlyphs">1979</text>
<line x1="1806.4" y1="1903" x2="1806.4" y2="1911.5" stroke="#aaa6a6" stroke-width="4"/>
<line x1="1884.2" y1="1903" x2="1884.2" y2="1919" stroke="#d2cfcf" stroke-width="4"/>
<text class="k" x="1885.4" y="1951.4" text-anchor="middle" font-family='"DejaVu Sans", "Liberation Sans", sans-serif' font-size="34.4" fill="#0d0c0c" textLength="92.4" lengthAdjust="spacingAndGlyphs">1989</text>
<line x1="1962" y1="1903" x2="1962" y2="1911.5" stroke="#aaa6a6" stroke-width="4"/>
<line x1="2039.8" y1="1903" x2="2039.8" y2="1919" stroke="#d2cfcf" stroke-width="4"/>
<text class="k" x="2041" y="1951.4" text-anchor="middle" font-family='"DejaVu Sans", "Liberation Sans", sans-serif' font-size="34.4" fill="#0d0c0c" textLength="92.4" lengthAdjust="spacingAndGlyphs">1999</text>
<line x1="2117.6" y1="1903" x2="2117.6" y2="1911.5" stroke="#aaa6a6" stroke-width="4"/>
<line x1="2195.4" y1="1903" x2="2195.4" y2="1919" stroke="#d2cfcf" stroke-width="4"/>
<text class="k" x="2196.6" y="1951.4" text-anchor="middle" font-family='"DejaVu Sans", "Liberation Sans", sans-serif' font-size="34.4" fill="#0d0c0c" textLength="92.4" lengthAdjust="spacingAndGlyphs">2009</text>
<line x1="2273.2" y1="1903" x2="2273.2" y2="1911.5" stroke="#aaa6a6" stroke-width="4"/>
<line x1="2351" y1="1903" x2="2351" y2="1919" stroke="#d2cfcf" stroke-width="4"/>
<text class="k" x="2352.2" y="1951.4" text-anchor="middle" font-family='"DejaVu Sans", "Liberation Sans", sans-serif' font-size="34.4" fill="#0d0c0c" textLength="92.4" lengthAdjust="spacingAndGlyphs">2019</text>
<text class="l" transform="translate(1310.4 1665.8) rotate(-90)" font-family='"DejaVu Sans", "Liberation Sans", sans-serif' font-size="43" fill="#0d0c0c"><tspan x="-62.4" y="0" font-size="43" textLength="67.5" lengthAdjust="spacingAndGlyphs">DT+</tspan><tspan x="7.2" y="4" font-size="53" textLength="11.9" lengthAdjust="spacingAndGlyphs">(</tspan><tspan x="20.1" y="0" font-size="43" textLength="26.6" lengthAdjust="spacingAndGlyphs">%</tspan><tspan x="49.4" y="4" font-size="53" textLength="12.9" lengthAdjust="spacingAndGlyphs">)</tspan></text>
<polyline points="1417.4,1902 1433,1902 1448.5,1902 1464.1,1902 1479.6,1902 1495.2,1902 1510.8,1902 1526.3,1902 1541.9,1902 1557.4,1902 1573,1902 1588.6,1902 1604.1,1889.3 1619.7,1902 1635.2,1863.9 1650.8,1902 1666.4,1889.3 1681.9,1902 1697.5,1902 1713,1902 1728.6,1902 1744.2,1877.4 1759.7,1902 1775.3,1902 1790.8,1876.2 1806.4,1889.3 1822,1902 1837.5,1902 1853.1,1876.2 1868.6,1863.9 1884.2,1902 1899.8,1902 1915.3,1889.3 1930.9,1902 1946.4,1902 1962,1877.4 1977.6,1902 1993.1,1902 2008.7,1849.2 2024.2,1902 2039.8,1902 2055.4,1902 2070.9,1887.9 2086.5,1902 2102,1785.8 2117.6,1850.4 2133.2,1824.5 2148.7,1902 2164.3,1799.3 2179.8,1902 2195.4,1774.1 2211,1902 2226.5,1722.4 2242.1,1902 2257.6,1889.3 2273.2,1902 2288.8,1850.4 2304.3,1843.3 2319.9,1747.1 2335.4,1902 2351,1580.4 2366.6,1902 2382.1,1855 2397.7,1774.1" fill="none" stroke="#1a1818" stroke-width="4" stroke-linejoin="round" clip-path="url(#cp5)"/>
<line x1="1415.4" y1="1924.7" x2="2417.3" y2="1834.9" stroke="#050505" stroke-width="5.2" clip-path="url(#cp5)"/>
</g>
<g id="c6">
<line x1="185.8" y1="2381.3" x2="1235" y2="2381.3" stroke="#ebebeb" stroke-width="4"/>
<line x1="185.8" y1="2262" x2="1235" y2="2262" stroke="#ebebeb" stroke-width="4"/>
<line x1="185.8" y1="2142.7" x2="1235" y2="2142.7" stroke="#ebebeb" stroke-width="4"/>
<line x1="185.8" y1="2023.3" x2="1235" y2="2023.3" stroke="#f3f3f3" stroke-width="4"/>
<clipPath id="cp6"><rect x="183.3" y="2019.3" width="1053.7" height="483.6"/></clipPath>
<line x1="185.8" y1="2023.3" x2="185.8" y2="2502.8" stroke="#a09c9c" stroke-width="4.2"/>
<line x1="183.7" y1="2500.7" x2="1236" y2="2500.7" stroke="#a09c9c" stroke-width="4.2"/>
<line x1="169.8" y1="2500.7" x2="184.8" y2="2500.7" stroke="#cdcaca" stroke-width="4"/>
<text class="k" x="163.8" y="2509.9" text-anchor="end" font-family='"DejaVu Sans", "Liberation Sans", sans-serif' font-size="34.4" fill="#0d0c0c" textLength="24" lengthAdjust="spacingAndGlyphs">0</text>
<line x1="175.3" y1="2441" x2="184.8" y2="2441" stroke="#aaa6a6" stroke-width="4"/>
<line x1="169.8" y1="2381.3" x2="184.8" y2="2381.3" stroke="#cdcaca" stroke-width="4"/>
<text class="k" x="163.8" y="2390.5" text-anchor="end" font-family='"DejaVu Sans", "Liberation Sans", sans-serif' font-size="34.4" fill="#0d0c0c" textLength="47.6" lengthAdjust="spacingAndGlyphs">10</text>
<line x1="175.3" y1="2321.7" x2="184.8" y2="2321.7" stroke="#aaa6a6" stroke-width="4"/>
<line x1="169.8" y1="2262" x2="184.8" y2="2262" stroke="#cdcaca" stroke-width="4"/>
<text class="k" x="163.8" y="2271.2" text-anchor="end" font-family='"DejaVu Sans", "Liberation Sans", sans-serif' font-size="34.4" fill="#0d0c0c" textLength="47.6" lengthAdjust="spacingAndGlyphs">20</text>
<line x1="175.3" y1="2202.3" x2="184.8" y2="2202.3" stroke="#aaa6a6" stroke-width="4"/>
<line x1="169.8" y1="2142.7" x2="184.8" y2="2142.7" stroke="#cdcaca" stroke-width="4"/>
<text class="k" x="163.8" y="2151.8" text-anchor="end" font-family='"DejaVu Sans", "Liberation Sans", sans-serif' font-size="34.4" fill="#0d0c0c" textLength="47.6" lengthAdjust="spacingAndGlyphs">30</text>
<line x1="175.3" y1="2083" x2="184.8" y2="2083" stroke="#aaa6a6" stroke-width="4"/>
<line x1="169.8" y1="2023.3" x2="184.8" y2="2023.3" stroke="#cdcaca" stroke-width="4"/>
<text class="k" x="163.8" y="2032.5" text-anchor="end" font-family='"DejaVu Sans", "Liberation Sans", sans-serif' font-size="34.4" fill="#0d0c0c" textLength="47.6" lengthAdjust="spacingAndGlyphs">40</text>
<line x1="185.8" y1="2501.7" x2="185.8" y2="2517.7" stroke="#d2cfcf" stroke-width="4"/>
<text class="k" x="187" y="2552.1" text-anchor="middle" font-family='"DejaVu Sans", "Liberation Sans", sans-serif' font-size="34.4" fill="#0d0c0c" textLength="92.4" lengthAdjust="spacingAndGlyphs">1959</text>
<line x1="267.4" y1="2501.7" x2="267.4" y2="2510.2" stroke="#aaa6a6" stroke-width="4"/>
<line x1="349" y1="2501.7" x2="349" y2="2517.7" stroke="#d2cfcf" stroke-width="4"/>
<text class="k" x="350.2" y="2552.1" text-anchor="middle" font-family='"DejaVu Sans", "Liberation Sans", sans-serif' font-size="34.4" fill="#0d0c0c" textLength="92.4" lengthAdjust="spacingAndGlyphs">1969</text>
<line x1="430.6" y1="2501.7" x2="430.6" y2="2510.2" stroke="#aaa6a6" stroke-width="4"/>
<line x1="512.2" y1="2501.7" x2="512.2" y2="2517.7" stroke="#d2cfcf" stroke-width="4"/>
<text class="k" x="513.4" y="2552.1" text-anchor="middle" font-family='"DejaVu Sans", "Liberation Sans", sans-serif' font-size="34.4" fill="#0d0c0c" textLength="92.4" lengthAdjust="spacingAndGlyphs">1979</text>
<line x1="593.8" y1="2501.7" x2="593.8" y2="2510.2" stroke="#aaa6a6" stroke-width="4"/>
<line x1="675.4" y1="2501.7" x2="675.4" y2="2517.7" stroke="#d2cfcf" stroke-width="4"/>
<text class="k" x="676.6" y="2552.1" text-anchor="middle" font-family='"DejaVu Sans", "Liberation Sans", sans-serif' font-size="34.4" fill="#0d0c0c" textLength="92.4" lengthAdjust="spacingAndGlyphs">1989</text>
<line x1="757" y1="2501.7" x2="757" y2="2510.2" stroke="#aaa6a6" stroke-width="4"/>
<line x1="838.6" y1="2501.7" x2="838.6" y2="2517.7" stroke="#d2cfcf" stroke-width="4"/>
<text class="k" x="839.8" y="2552.1" text-anchor="middle" font-family='"DejaVu Sans", "Liberation Sans", sans-serif' font-size="34.4" fill="#0d0c0c" textLength="92.4" lengthAdjust="spacingAndGlyphs">1999</text>
<line x1="920.2" y1="2501.7" x2="920.2" y2="2510.2" stroke="#aaa6a6" stroke-width="4"/>
<line x1="1001.8" y1="2501.7" x2="1001.8" y2="2517.7" stroke="#d2cfcf" stroke-width="4"/>
<text class="k" x="1003" y="2552.1" text-anchor="middle" font-family='"DejaVu Sans", "Liberation Sans", sans-serif' font-size="34.4" fill="#0d0c0c" textLength="92.4" lengthAdjust="spacingAndGlyphs">2009</text>
<line x1="1083.4" y1="2501.7" x2="1083.4" y2="2510.2" stroke="#aaa6a6" stroke-width="4"/>
<line x1="1165" y1="2501.7" x2="1165" y2="2517.7" stroke="#d2cfcf" stroke-width="4"/>
<text class="k" x="1166.2" y="2552.1" text-anchor="middle" font-family='"DejaVu Sans", "Liberation Sans", sans-serif' font-size="34.4" fill="#0d0c0c" textLength="92.4" lengthAdjust="spacingAndGlyphs">2019</text>
<text class="l" transform="translate(74.7 2263.2) rotate(-90)" font-family='"DejaVu Sans", "Liberation Sans", sans-serif' font-size="43" fill="#0d0c0c"><tspan x="-70.4" y="0" font-size="43" textLength="83.4" lengthAdjust="spacingAndGlyphs">MT+</tspan><tspan x="14.3" y="4" font-size="53" textLength="12" lengthAdjust="spacingAndGlyphs">(</tspan><tspan x="27.3" y="0" font-size="43" textLength="26.7" lengthAdjust="spacingAndGlyphs">%</tspan><tspan x="56.7" y="4" font-size="53" textLength="13" lengthAdjust="spacingAndGlyphs">)</tspan></text>
<polyline points="185.8,2500.7 202.1,2500.7 218.4,2500.7 234.8,2500.7 251.1,2500.7 267.4,2500.7 283.7,2500.7 300,2500.7 316.4,2500.7 332.7,2500.7 349,2500.7 365.3,2500.7 381.6,2500.7 398,2500.7 414.3,2437.4 430.6,2500.7 446.9,2500.7 463.2,2500.7 479.6,2500.7 495.9,2500.7 512.2,2500.7 528.5,2488.8 544.8,2500.7 561.2,2500.7 577.5,2398.1 593.8,2500.7 610.1,2488.8 626.4,2500.7 642.8,2450.6 659.1,2450.6 675.4,2500.7 691.7,2500.7 708,2488.8 724.4,2488.8 740.7,2488.8 757,2488.8 773.3,2488.8 789.6,2435.1 806,2395.7 822.3,2412.4 838.6,2500.7 854.9,2500.7 871.2,2425.5 887.6,2488.8 903.9,2426.7 920.2,2314.5 936.5,2268 952.8,2461.3 969.2,2384.9 985.5,2461.3 1001.8,2227.4 1018.1,2396.9 1034.4,2369.4 1050.8,2500.7 1067.1,2475.6 1083.4,2449.4 1099.7,2424.3 1116,2085.4 1132.4,2248.9 1148.7,2500.7 1165,2373 1181.3,2411.2 1197.6,2450.6 1214,2425.5" fill="none" stroke="#1a1818" stroke-width="4" stroke-linejoin="round" clip-path="url(#cp6)"/>
<line x1="183.8" y1="2518" x2="1236" y2="2365.8" stroke="#050505" stroke-width="5.2" clip-path="url(#cp6)"/>
</g>
</svg>
</body>
</html>
